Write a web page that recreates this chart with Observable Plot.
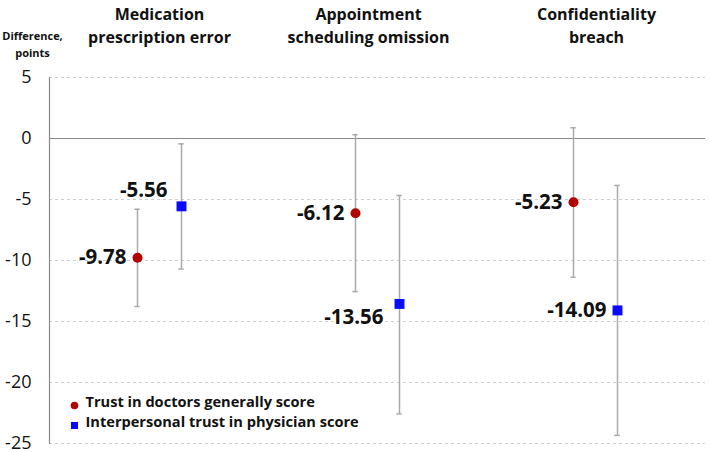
<!DOCTYPE html>
<html><head><meta charset="utf-8">
<script src="https://cdn.jsdelivr.net/npm/d3@7"></script>
<script src="https://cdn.jsdelivr.net/npm/@observablehq/plot@0.6"></script>
<style>
body{margin:0;background:#fff;}
#chart{width:709px;height:452px;}
</style></head><body><div id="chart"></div>
<script>
// ---- data ----
const categories = ["Medication prescription error", "Appointment scheduling omission", "Confidentiality breach"];
const titleLines = [["Medication", "prescription error"], ["Appointment", "scheduling omission"], ["Confidentiality", "breach"]];
const seriesNames = ["Trust in doctors generally score", "Interpersonal trust in physician score"];
const generalMean = [-9.78, -6.12, -5.23];
const generalLow  = [-13.77, -12.55, -11.37];
const generalHigh = [-5.80, 0.31, 0.88];
const interpMean  = [-5.56, -13.56, -14.09];
const interpLow   = [-10.70, -22.57, -24.34];
const interpHigh  = [-0.44, -4.67, -3.85];
const yTicks = [5, 0, -5, -10, -15, -20, -25];
const yLabel = ["Difference,", "points"];

// ---- styling / layout ----
const W = 709, H = 452, mL = 49, mR = 4, mT = 77, mB = 9;
const bw = (W - mL - mR) / categories.length;
const font = "'Open Sans', sans-serif";
const titleNudge = [0, -9, 1];
const series = [
  {name: seriesNames[0], mean: generalMean, low: generalLow, high: generalHigh,
   color: "#b20000", symbol: "circle", r: 5, legendR: 3.8, dx: -22, nudge: [[-11, 0], [-11, 0], [-11, 0]]},
  {name: seriesNames[1], mean: interpMean, low: interpLow, high: interpHigh,
   color: "#0a0aff", symbol: "square", r: 5.6, legendR: 4, dx: 22, nudge: [[-14, -16], [-16, 14], [-11, 0]]}
];
const fmt = v => (v < 0 ? "-" : "") + Math.abs(v).toFixed(2);

const marks = [
  Plot.gridY(yTicks.filter(d => d !== 0), {stroke: "#cfcfcf", strokeOpacity: 1, strokeDasharray: "3,3"}),
  Plot.ruleY([0], {stroke: "#8a8a8a", strokeWidth: 1.2}),
  Plot.frame({anchor: "left", stroke: "#8a8a8a", strokeWidth: 1.2}),
  Plot.axisY({ticks: yTicks, tickSize: 0, tickPadding: 18, fontSize: 18, fill: "#111",
    tickFormat: d => String(d)}),
  Plot.text([yLabel.join("\n")], {frameAnchor: "top-left", dx: -17, dy: -34, text: d => d,
    textAnchor: "middle", lineAnchor: "middle", fontSize: 11, fontWeight: "bold", lineHeight: 1.55, fill: "#111"})
];
categories.forEach((c, i) => {
  marks.push(Plot.text([c], {x: d => d, text: () => titleLines[i].join("\n"), frameAnchor: "top",
    dx: titleNudge[i], dy: -53, lineAnchor: "middle", fontSize: 16, fontWeight: "bold", lineHeight: 1.4, fill: "#111"}));
});

series.forEach((s, k) => {
  const rows = categories.map((c, i) => ({cat: c, mean: s.mean[i], low: s.low[i], high: s.high[i]}));
  marks.push(
    Plot.ruleX(rows, {x: "cat", y1: "low", y2: "high", dx: s.dx, stroke: "#a9a9a9", strokeWidth: 1.5}),
    Plot.tickY(rows, {x: "cat", y: "low", dx: s.dx, insetLeft: (bw - 6) / 2, insetRight: (bw - 6) / 2, stroke: "#a9a9a9", strokeWidth: 1.5}),
    Plot.tickY(rows, {x: "cat", y: "high", dx: s.dx, insetLeft: (bw - 6) / 2, insetRight: (bw - 6) / 2, stroke: "#a9a9a9", strokeWidth: 1.5}),
    Plot.dot(rows, {x: "cat", y: "mean", dx: s.dx, symbol: s.symbol, r: s.r, fill: s.color, stroke: "none"})
  );
  rows.forEach((row, i) => {
    marks.push(Plot.text([row], {x: "cat", y: "mean", text: d => fmt(d.mean),
      dx: s.dx + s.nudge[i][0], dy: s.nudge[i][1], textAnchor: "end",
      fontSize: 20.5, fontWeight: "bold", fill: "#111"}));
  });
  // legend
  marks.push(
    Plot.dot([s.name], {frameAnchor: "bottom-left", dx: 25, dy: -38 + 20 * k, symbol: s.symbol,
      r: s.legendR, fill: s.color, stroke: "none"}),
    Plot.text([s.name], {frameAnchor: "bottom-left", dx: 36, dy: -37 + 20 * k, text: d => d,
      textAnchor: "start", fontSize: 14.6, fontWeight: "bold", fill: "#111"})
  );
});

const chart = Plot.plot({
  width: W, height: H, marginTop: mT, marginBottom: mB, marginLeft: mL, marginRight: mR,
  x: {domain: categories, axis: null, padding: 0},
  y: {domain: [-25, 5], axis: null},
  style: {fontFamily: font, background: "#fff", overflow: "visible"},
  marks
});
document.getElementById("chart").appendChild(chart);
</script>
</body></html>
